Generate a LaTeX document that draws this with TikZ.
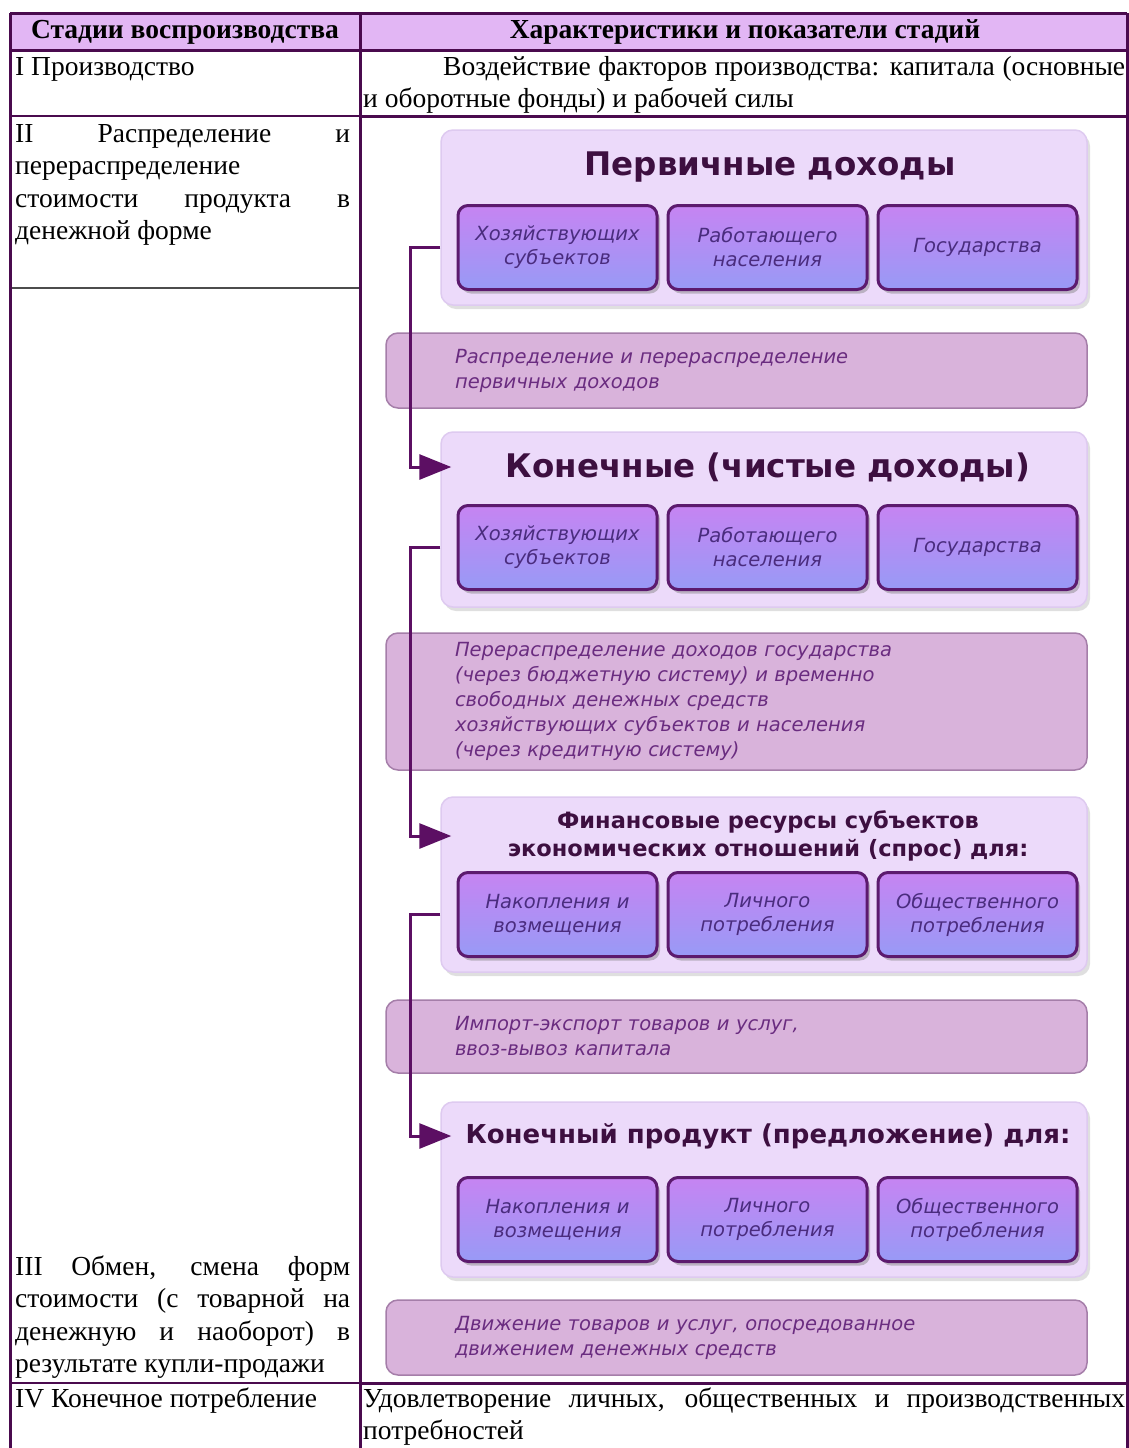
\documentclass[tikz,border=0pt]{standalone}
\usepackage{fontspec}
\setmainfont{Liberation Serif}
\newfontfamily\verd{DejaVu Sans}
\usetikzlibrary{positioning, arrows.meta, shadows}
\definecolor{kplum}{RGB}{74,10,78}
\definecolor{khead}{RGB}{226,182,244}
\definecolor{kpanel}{RGB}{236,218,250}
\definecolor{kpanelrim}{RGB}{222,202,240}
\definecolor{kboxtop}{RGB}{198,132,242}
\definecolor{kboxbot}{RGB}{152,154,246}
\definecolor{kboxrim}{RGB}{92,26,110}
\definecolor{kband}{RGB}{217,179,219}
\definecolor{kbandrim}{RGB}{165,126,169}
\definecolor{ktitle}{RGB}{61,15,64}
\definecolor{kboxtext}{RGB}{74,44,126}
\definecolor{kbandtext}{RGB}{106,44,128}
\definecolor{karrow}{RGB}{92,15,99}
\newcommand{\jline}[2]{\makebox[#1][s]{#2}}

\begin{document}
\begin{tikzpicture}[x=1pt, y=-1pt,
    cell/.style={inner sep=0pt, anchor=base west, align=left, font=\fontsize{27.5}{32.5}\selectfont},
    panel/.style={draw=kpanelrim, line width=1.5pt, fill=kpanel, rounded corners=12pt,
        minimum width=646pt, minimum height=175pt,
        drop shadow={opacity=0.25, shadow xshift=3pt, shadow yshift=-4pt}},
    headline/.style={text=ktitle, align=center, inner sep=0pt},
    income/.style={draw=kboxrim, line width=3pt, rounded corners=10pt, top color=kboxtop, bottom color=kboxbot,
        minimum width=199pt, minimum height=84pt, text width=190pt, align=center, inner sep=0pt,
        text=kboxtext, font=\verd\itshape\fontsize{19.5}{24}\selectfont,
        drop shadow={opacity=0.45, shadow xshift=3pt, shadow yshift=-4pt}},
    band/.style={draw=kbandrim, line width=1.5pt, fill=kband, rounded corners=12pt,
        minimum width=701pt, text width=563pt, inner xsep=69pt, align=left,
        text=kbandtext, font=\verd\itshape\fontsize{19.5}{25}\selectfont},
    flow/.style={draw=karrow, line width=3pt, -{Triangle[length=32pt, width=25pt]}, shorten >=-11pt}]

    % background
    \fill[white] (0,0) rectangle (1129,1448);
    \useasboundingbox (0,0) rectangle (1129,1448);

    % table
    \fill[khead] (10,13) rectangle (1127,50);
    \draw[kplum, line width=3pt] (10,13) -- (1127,13);
    \draw[kplum, line width=3pt] (10,50) -- (1127,50);
    \draw[kplum, line width=1.5pt] (10,116) -- (360,116);
    \draw[kplum, line width=3pt] (360,116) -- (1127,116);
    \draw[black!70, line width=1.5pt] (10,288) -- (360,288);
    \draw[kplum, line width=1.5pt] (10,1383) -- (360,1383);
    \draw[kplum, line width=3pt] (360,1383) -- (1127,1383);
    \foreach \x in {10,360,1127}
        \draw[kplum, line width=3pt] (\x,13) -- (\x,1448);

    \node[font=\bfseries\fontsize{27.5}{32.5}\selectfont] (h1) at (185,32) {Стадии воспроизводства};
    \node[font=\bfseries\fontsize{27.5}{32.5}\selectfont] (h2) at (745,32) {Характеристики и показатели стадий};

    % multi-line cells sit on the baseline of their last line
    \node[cell] (s1) at (15,75) {I Производство};
    \node[cell] (d1) at (363,107.5) {\jline{762pt}{\hspace{80pt}Воздействие факторов производства: капитала (основные}\\и оборотные фонды) и рабочей силы};
    \node[cell] (s2) at (15,239.5) {\jline{335pt}{II Распределение и}\\перераспределение\\\jline{335pt}{стоимости продукта в}\\денежной форме};
    \node[cell] (s3) at (15,1372.5) {\jline{335pt}{III Обмен, смена форм}\\\jline{335pt}{стоимости (с товарной на}\\\jline{335pt}{денежную и наоборот) в}\\результате купли-продажи};
    \node[cell] (s4) at (15,1407) {IV Конечное потребление};
    \node[cell] (d4) at (363,1439.5) {\jline{762pt}{Удовлетворение личных, общественных и производственных}\\потребностей};

    % income panels
    \node[panel] (g1) at (764,217.5) {};
    \node[panel] (g2) at (764,519.5) {};
    \node[panel] (g3) at (764,884.5) {};
    \node[panel] (g4) at (764,1189.5) {};

    \node[headline, font=\verd\bfseries\fontsize{32.5}{38}\selectfont] (t1) at (770,167) {Первичные доходы};
    \node[headline, font=\verd\bfseries\fontsize{32.5}{38}\selectfont] (t2) at (768,467) {Конечные (чистые доходы)};
    \node[headline, font=\verd\bfseries\fontsize{22.5}{28}\selectfont] (t3) at (768,836) {Финансовые ресурсы субъектов\\экономических отношений (спрос) для:};
    \node[headline, font=\verd\bfseries\fontsize{26}{32}\selectfont] (t4) at (768,1136) {Конечный продукт (предложение) для:};

    \foreach \n/\y in {1/247.5, 2/547.5}
    {
        \node[income] (a\n) at (557.5,\y) {Хозяйствующих\\субъектов};
        \node[income, right=8pt of a\n] (b\n) {Работающего\\населения};
        \node[income, right=8pt of b\n] (c\n) {Государства};
    }
    \foreach \n/\y in {3/914.5, 4/1219.5}
    {
        \node[income] (a\n) at (557.5,\y) {Накопления и\\возмещения};
        \node[income, right=8pt of a\n] (b\n) {Личного\\потребления};
        \node[income, right=8pt of b\n] (c\n) {Общественного\\потребления};
    }

    % bands
    \node[band, minimum height=75pt] (r1) at (736.5,370.5) {Распределение и перераспределение\\первичных доходов};
    \node[band, minimum height=137pt] (r2) at (736.5,701.5) {Перераспределение доходов государства\\(через бюджетную систему) и временно\\свободных денежных средств\\хозяйствующих субъектов и населения\\(через кредитную систему)};
    \node[band, minimum height=73pt] (r3) at (736.5,1036.5) {Импорт-экспорт товаров и услуг,\\ввоз-вывоз капитала};
    \node[band, minimum height=75pt] (r4) at (736.5,1337.5) {Движение товаров и услуг, опосредованное\\движением денежных средств};

    % connectors
    \coordinate (spine) at (410,0);
    \foreach \n/\m in {1/2, 2/3, 3/4}
        \draw[flow] (a\n.west -| g\n.west) -- (a\n.west -| spine) |- (t\m.west -| g\m.west);
\end{tikzpicture}
\end{document}
